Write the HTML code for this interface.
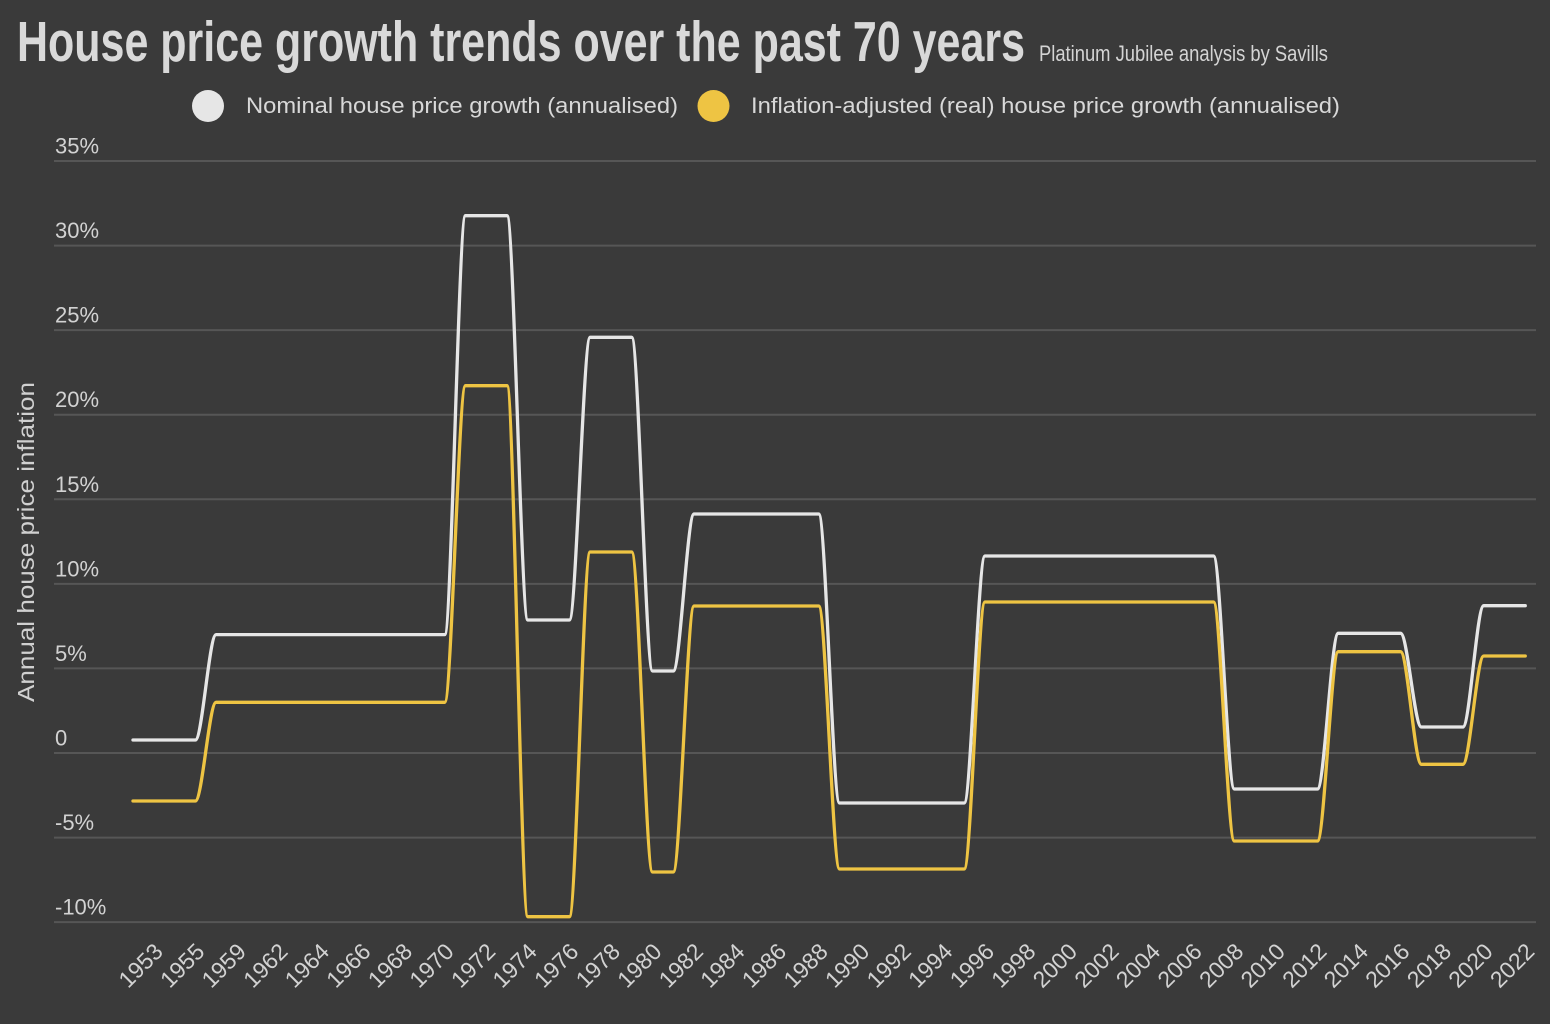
<!DOCTYPE html>
<html>
<head>
<meta charset="utf-8">
<style>
  html, body { margin: 0; padding: 0; background: #3a3a3a; }
  body { width: 1550px; height: 1024px; overflow: hidden; }
  svg { display: block; }
  text { font-family: "Liberation Sans", "DejaVu Sans", sans-serif; }
</style>
</head>
<body>
<svg width="1550" height="1024" viewBox="0 0 1550 1024" xmlns="http://www.w3.org/2000/svg">
  <rect x="0" y="0" width="1550" height="1024" fill="#3a3a3a"/>

  <!-- Title -->
  <text x="17" y="61" font-size="57" font-weight="bold" fill="#d9d9d9" textLength="1008" lengthAdjust="spacingAndGlyphs" style="font-family:'Liberation Sans Narrow','Liberation Sans',sans-serif;">House price growth trends over the past 70 years</text>
  <text x="1039" y="61" font-size="22" fill="#d4d4d4" textLength="289" lengthAdjust="spacingAndGlyphs" style="font-family:'Liberation Sans Narrow','Liberation Sans',sans-serif;">Platinum Jubilee analysis by Savills</text>

  <!-- Legend -->
  <circle cx="208" cy="106" r="16" fill="#e6e6e6"/>
  <text x="246" y="113" font-size="22" fill="#d8d8d8" textLength="432" lengthAdjust="spacingAndGlyphs">Nominal house price growth (annualised)</text>
  <circle cx="713.5" cy="106" r="16" fill="#eec443"/>
  <text x="751" y="113" font-size="22" fill="#d8d8d8" textLength="589" lengthAdjust="spacingAndGlyphs">Inflation-adjusted (real) house price growth (annualised)</text>

  <!-- Gridlines -->
  <g stroke="#565656" stroke-width="2">
    <line x1="54" y1="161" x2="1536" y2="161"/>
    <line x1="54" y1="245.6" x2="1536" y2="245.6"/>
    <line x1="54" y1="330.1" x2="1536" y2="330.1"/>
    <line x1="54" y1="414.7" x2="1536" y2="414.7"/>
    <line x1="54" y1="499.3" x2="1536" y2="499.3"/>
    <line x1="54" y1="583.9" x2="1536" y2="583.9"/>
    <line x1="54" y1="668.4" x2="1536" y2="668.4"/>
    <line x1="54" y1="753" x2="1536" y2="753"/>
    <line x1="54" y1="837.6" x2="1536" y2="837.6"/>
    <line x1="54" y1="922.1" x2="1536" y2="922.1"/>
  </g>

  <!-- Y tick labels -->
  <g font-size="22" fill="#d2d2d2">
    <text x="55" y="153.5">35%</text>
    <text x="55" y="238.1">30%</text>
    <text x="55" y="322.6">25%</text>
    <text x="55" y="407.2">20%</text>
    <text x="55" y="491.8">15%</text>
    <text x="55" y="576.4">10%</text>
    <text x="55" y="660.9">5%</text>
    <text x="55" y="745.5">0</text>
    <text x="55" y="830.1">-5%</text>
    <text x="55" y="914.6">-10%</text>
  </g>

  <!-- Y axis title -->
  <text transform="translate(34,542) rotate(-90)" text-anchor="middle" font-size="23" fill="#d0d0d0" textLength="320" lengthAdjust="spacingAndGlyphs">Annual house price inflation</text>

  <!-- Series: nominal -->
  <path fill="none" stroke="#e6e6e6" stroke-width="3.3" stroke-linejoin="round" stroke-linecap="round"
    d="M133,740 L195.34,740 C202.27,740 209.19,634.6 216.12,634.6 L444.70,634.6 C451.63,634.6 458.55,215.7 465.48,215.7 L507.04,215.7 C513.97,215.7 520.89,620 527.82,620 L569.38,620 C576.31,620 583.23,337.3 590.16,337.3 L631.72,337.3 C638.65,337.3 645.57,671 652.50,671 L673.28,671 C680.21,671 687.13,514 694.06,514 L818.74,514 C825.67,514 832.59,803 839.52,803 L964.20,803 C971.13,803 978.05,556 984.98,556 L1213.56,556 C1220.49,556 1227.41,789 1234.34,789 L1317.46,789 C1324.39,789 1331.31,633.3 1338.24,633.3 L1400.58,633.3 C1407.51,633.3 1414.43,727 1421.36,727 L1462.92,727 C1469.85,727 1476.77,605.7 1483.70,605.7 L1525.26,605.7"/>

  <!-- Series: real -->
  <path fill="none" stroke="#eec443" stroke-width="3.3" stroke-linejoin="round" stroke-linecap="round"
    d="M133,801 L195.34,801 C202.27,801 209.19,702.3 216.12,702.3 L444.70,702.3 C451.63,702.3 458.55,385.7 465.48,385.7 L507.04,385.7 C513.97,385.7 520.89,916.7 527.82,916.7 L569.38,916.7 C576.31,916.7 583.23,552 590.16,552 L631.72,552 C638.65,552 645.57,872 652.50,872 L673.28,872 C680.21,872 687.13,606 694.06,606 L818.74,606 C825.67,606 832.59,869 839.52,869 L964.20,869 C971.13,869 978.05,602 984.98,602 L1213.56,602 C1220.49,602 1227.41,841 1234.34,841 L1317.46,841 C1324.39,841 1331.31,651.7 1338.24,651.7 L1400.58,651.7 C1407.51,651.7 1414.43,764.3 1421.36,764.3 L1462.92,764.3 C1469.85,764.3 1476.77,656 1483.70,656 L1525.26,656"/>

  <!-- X tick labels -->
  <g font-size="23" fill="#d2d2d2" text-anchor="end">
    <text transform="translate(164.3,953) rotate(-45)">1953</text>
    <text transform="translate(205.9,953) rotate(-45)">1955</text>
    <text transform="translate(247.4,953) rotate(-45)">1959</text>
    <text transform="translate(289.0,953) rotate(-45)">1962</text>
    <text transform="translate(330.5,953) rotate(-45)">1964</text>
    <text transform="translate(372.1,953) rotate(-45)">1966</text>
    <text transform="translate(413.7,953) rotate(-45)">1968</text>
    <text transform="translate(455.2,953) rotate(-45)">1970</text>
    <text transform="translate(496.8,953) rotate(-45)">1972</text>
    <text transform="translate(538.3,953) rotate(-45)">1974</text>
    <text transform="translate(579.9,953) rotate(-45)">1976</text>
    <text transform="translate(621.5,953) rotate(-45)">1978</text>
    <text transform="translate(663.0,953) rotate(-45)">1980</text>
    <text transform="translate(704.6,953) rotate(-45)">1982</text>
    <text transform="translate(746.1,953) rotate(-45)">1984</text>
    <text transform="translate(787.7,953) rotate(-45)">1986</text>
    <text transform="translate(829.3,953) rotate(-45)">1988</text>
    <text transform="translate(870.8,953) rotate(-45)">1990</text>
    <text transform="translate(912.4,953) rotate(-45)">1992</text>
    <text transform="translate(953.9,953) rotate(-45)">1994</text>
    <text transform="translate(995.5,953) rotate(-45)">1996</text>
    <text transform="translate(1037.1,953) rotate(-45)">1998</text>
    <text transform="translate(1078.6,953) rotate(-45)">2000</text>
    <text transform="translate(1120.2,953) rotate(-45)">2002</text>
    <text transform="translate(1161.7,953) rotate(-45)">2004</text>
    <text transform="translate(1203.3,953) rotate(-45)">2006</text>
    <text transform="translate(1244.9,953) rotate(-45)">2008</text>
    <text transform="translate(1286.4,953) rotate(-45)">2010</text>
    <text transform="translate(1328.0,953) rotate(-45)">2012</text>
    <text transform="translate(1369.5,953) rotate(-45)">2014</text>
    <text transform="translate(1411.1,953) rotate(-45)">2016</text>
    <text transform="translate(1452.7,953) rotate(-45)">2018</text>
    <text transform="translate(1494.2,953) rotate(-45)">2020</text>
    <text transform="translate(1535.8,953) rotate(-45)">2022</text>
  </g>
</svg>
</body>
</html>
